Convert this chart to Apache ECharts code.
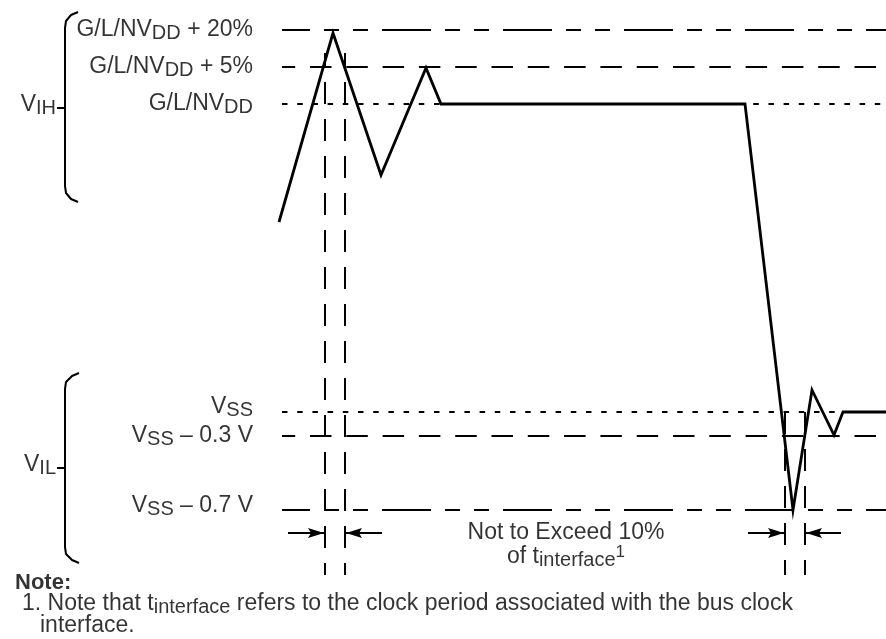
<!DOCTYPE html>
<html>
<head>
<meta charset="utf-8">
<script src="https://cdn.jsdelivr.net/npm/echarts@6/dist/echarts.min.js"></script>
<style>
  html, body { margin: 0; padding: 0; background: #fff; }
  #chart { width: 886px; height: 639px; }
</style>
</head>
<body>
<div id="chart"></div>
<script>
const FONT = '"Liberation Sans", Arial, Helvetica, sans-serif';

// waveform: time / level (level axis grows downward)
const waveT = [279, 333, 381, 426, 441, 745, 793, 812, 834, 843, 886];
const waveV = [222, 33, 175, 68, 104, 104, 510, 390, 435, 412, 412];

// reference levels
const levelNames = [
  '{m|G/L/NV}{s|DD}{m| + 20%}',
  '{m|G/L/NV}{s|DD}{m| + 5%}',
  '{m|G/L/NV}{s|DD}',
  '{m|V}{s|SS}',
  '{m|V}{s|SS}{m| – 0.3 V}',
  '{m|V}{s|SS}{m| – 0.7 V}'
];
const levelValues = [30, 67, 104, 412, 436, 510];
const levelStyles = ['longShort', 'dashed', 'dotted', 'dotted', 'dashed', 'longShort'];
const labelShift = [0, 0, 0, -5, 0, -4];
const levelFrom = 282;
const levelTo = 886;

// timing markers (vertical dashed)
const markerT = [325, 345, 785, 805];
const markerFrom = [53, 53, 412, 412];
const markerTo = 575;

// arrows pointing at markers
const arrowTail = [288, 382, 748, 841];
const arrowTip = [324, 346, 784, 806];
const arrowLevel = 533;

// V_IH / V_IL braces
const braceIH = [[78, 12], [71, 15], [66, 21], [65, 28], [65, 186], [66, 193], [71, 199], [78, 202]];
const braceIL = [[79, 373], [72, 376], [66, 382], [65, 389], [65, 547], [66, 554], [72, 560], [79, 563]];
const tickIH = [[57, 108], [65, 108]];
const tickIL = [[57, 468], [65, 468]];

// texts
const sideLabels = ['{m|V}{s|IH}', '{m|V}{s|IL}'];
const sideLabelV = [105, 465];
const captionLines = ['{m|Not to Exceed 10%}', '{m|of t}{s|interface}{p|1}'];
const captionV = [533, 557];
const noteLines = [
  '{b|Note:}',
  '{m|1. Note that t}{s|interface}{m| refers to the clock period associated with the bus clock}',
  '{m|interface.}'
];
const noteT = [15, 22, 40];
const noteV = [583, 604, 626];

const dashTypes = {
  longShort: { type: [49, 14, 15, 14, 15, 14], dashOffset: 21 },
  dashed: { type: [21.5, 14.8], dashOffset: 8.3 },
  dotted: { type: [5.5, 9.7], dashOffset: 0 }
};

const rich = {
  m: { fontFamily: FONT, fontSize: 23, lineHeight: 26, color: '#000' },
  s: { fontFamily: FONT, fontSize: 20, lineHeight: 10, verticalAlign: 'bottom', color: '#000' },
  p: { fontFamily: FONT, fontSize: 17, lineHeight: 10, verticalAlign: 'top', color: '#000' },
  b: { fontFamily: FONT, fontSize: 22, lineHeight: 26, fontWeight: 'bold', color: '#000' }
};

function plainLine(name, data, width, dash) {
  return {
    name: name,
    type: 'line',
    data: data,
    symbol: 'none',
    silent: true,
    z: 2,
    lineStyle: Object.assign({ color: '#000', width: width, cap: 'butt' }, dash || { type: 'solid' })
  };
}

function textSeries(name, data, position) {
  return {
    name: name,
    type: 'scatter',
    symbolSize: 0,
    silent: true,
    z: 5,
    data: data,
    label: {
      show: true,
      position: position,
      distance: 0,
      formatter: p => p.data.text,
      rich: rich
    }
  };
}

const chart = echarts.init(document.getElementById('chart'), null, { renderer: 'canvas' });

const series = [];

levelValues.forEach((v, i) => {
  series.push(plainLine('level' + i, [[levelFrom, v], [levelTo, v]], 2, dashTypes[levelStyles[i]]));
});

markerT.forEach((t, i) => {
  series.push(plainLine('marker' + i, [[t, markerFrom[i]], [t, markerTo]], 2,
    { type: [22, 15], dashOffset: i < 2 ? 8 : 0 }));
});

series.push(plainLine('braceIH', braceIH, 2));
series.push(plainLine('braceIL', braceIL, 2));
series.push(plainLine('tickIH', tickIH, 2));
series.push(plainLine('tickIL', tickIL, 2));

const wave = plainLine('wave', waveT.map((t, i) => [t, waveV[i]]), 2.8);
wave.z = 3;
wave.lineStyle.join = 'miter';
series.push(wave);

// arrow heads: the extra moveTo keeps the tip in the middle of the symbol box,
// so the tip lands on the line end instead of past it
series.push({
  name: 'arrows',
  type: 'lines',
  coordinateSystem: 'cartesian2d',
  silent: true,
  symbol: ['none', 'path://M6,16 L12,32 L6,29 L0,32 Z M6,0'],
  symbolSize: [0, [10, 32]],
  lineStyle: { color: '#000', width: 2, opacity: 1 },
  data: arrowTail.map((t, i) => ({ coords: [[t, arrowLevel], [arrowTip[i], arrowLevel]] }))
});

series.push(textSeries('levelLabels',
  levelValues.map((v, i) => ({ value: [253, v + labelShift[i]], text: levelNames[i] })), 'left'));
series.push(textSeries('sideLabels',
  sideLabelV.map((v, i) => ({ value: [56, v], text: sideLabels[i] })), 'left'));
series.push(textSeries('caption',
  captionV.map((v, i) => ({ value: [566, v], text: captionLines[i] })), 'inside'));
series.push(textSeries('notes',
  noteV.map((v, i) => ({ value: [noteT[i], v], text: noteLines[i] })), 'right'));

chart.setOption({
  animation: false,
  backgroundColor: '#fff',
  grid: { left: 0, right: 0, top: 0, bottom: 0 },
  xAxis: { type: 'value', min: 0, max: 886, show: false },
  yAxis: { type: 'value', min: 0, max: 639, inverse: true, show: false },
  series: series
});
</script>
</body>
</html>
